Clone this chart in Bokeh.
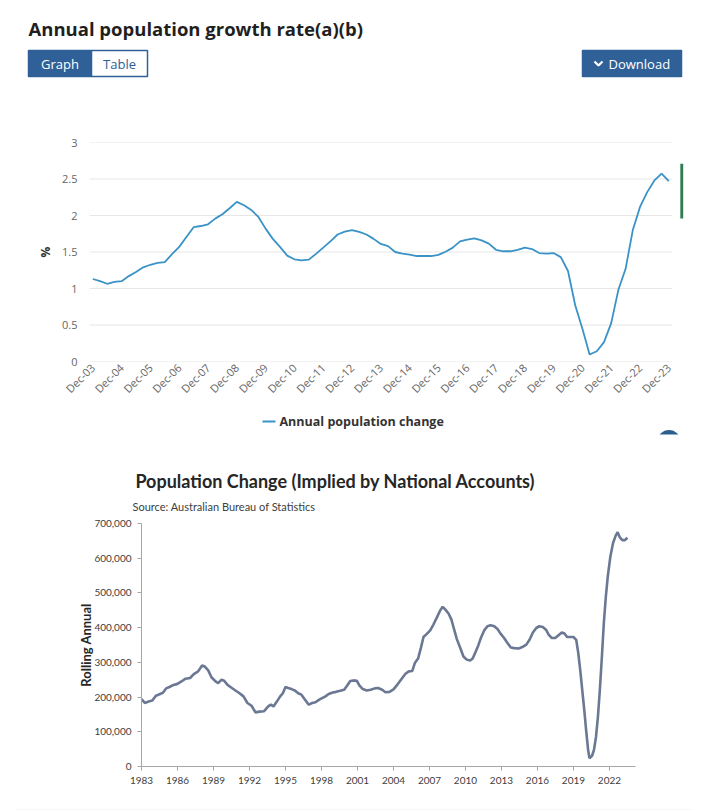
import numpy as np
from bokeh.plotting import figure
from bokeh.models import Range1d, FixedTicker, NumeralTickFormatter
from bokeh.layouts import column
from bokeh.embed import file_html
from bokeh.resources import INLINE
from bokeh.core.properties import value

# ---------------- data: top chart (quarterly, Dec-03 .. Dec-23) ----------------
growth_rate = [
    1.13,
    1.10, 1.065, 1.09, 1.10,
    1.17, 1.225, 1.29, 1.325,
    1.35, 1.36, 1.47, 1.57,
    1.705, 1.84, 1.856, 1.88,
    1.957, 2.017, 2.10, 2.186,
    2.14, 2.076, 1.98, 1.82,
    1.68, 1.57, 1.45, 1.40,
    1.385, 1.395, 1.475, 1.56,
    1.645, 1.74, 1.78, 1.80,
    1.775, 1.74, 1.68, 1.61,
    1.58, 1.50, 1.477, 1.463,
    1.445, 1.445, 1.445, 1.46,
    1.504, 1.56, 1.646, 1.67,
    1.687, 1.66, 1.614, 1.53,
    1.51, 1.51, 1.53, 1.56,
    1.54, 1.486, 1.477, 1.486,
    1.43, 1.24, 0.77, 0.45,
    0.096, 0.14, 0.265, 0.526,
    0.983, 1.27, 1.80, 2.117,
    2.32, 2.48, 2.574, 2.47,
]
dec_labels = ["Dec-03", "Dec-04", "Dec-05", "Dec-06", "Dec-07", "Dec-08", "Dec-09",
              "Dec-10", "Dec-11", "Dec-12", "Dec-13", "Dec-14", "Dec-15", "Dec-16",
              "Dec-17", "Dec-18", "Dec-19", "Dec-20", "Dec-21", "Dec-22", "Dec-23"]
pct_ticks = [0, 0.5, 1, 1.5, 2, 2.5, 3]
series_name = "Annual population change"

# ---------------- data: bottom chart ----------------
pop_years = [
    1983.0, 1983.28, 1983.6, 1983.9, 1984.2, 1984.5, 1984.8, 1985.05, 1985.33, 1985.67,
    1986.0, 1986.33, 1986.67, 1987.05, 1987.36, 1987.72, 1988.05, 1988.28, 1988.56, 1988.83,
    1989.17, 1989.39, 1989.67, 1989.89, 1990.17, 1990.5, 1990.83, 1991.17, 1991.5, 1991.83,
    1992.17, 1992.5, 1992.83, 1993.2, 1993.56, 1993.78, 1994.0, 1994.28, 1994.56, 1994.78,
    1995.0, 1995.22, 1995.5, 1995.78, 1996.06, 1996.33, 1996.6, 1996.94, 1997.22, 1997.5,
    1997.78, 1998.05, 1998.33, 1998.6, 1998.94, 1999.22, 1999.56, 1999.89, 2000.1, 2000.4,
    2000.67, 2000.94, 2001.17, 2001.44, 2001.78, 2002.1, 2002.44, 2002.72, 2003.06, 2003.33,
    2003.67, 2004.0, 2004.33, 2004.67, 2005.0, 2005.28, 2005.56, 2005.78, 2006.06, 2006.28,
    2006.5, 2006.78, 2007.06, 2007.33, 2007.6, 2007.9, 2008.1, 2008.33, 2008.6, 2008.83,
    2009.06, 2009.28, 2009.56, 2009.83, 2010.1, 2010.39, 2010.6, 2010.83, 2011.06, 2011.28,
    2011.56, 2011.83, 2012.1, 2012.4, 2012.67, 2012.94, 2013.22, 2013.5, 2013.78, 2014.06,
    2014.44, 2014.74, 2015.07, 2015.34, 2015.62, 2015.9, 2016.16, 2016.44, 2016.71, 2016.93,
    2017.2, 2017.48, 2017.75, 2018.03, 2018.25, 2018.47, 2018.74, 2019.0, 2019.23, 2019.4,
    2019.56, 2019.73, 2019.9, 2020.05, 2020.22, 2020.33, 2020.55, 2020.71, 2020.88, 2021.04,
    2021.2, 2021.37, 2021.53, 2021.7, 2021.86, 2022.08, 2022.3, 2022.52, 2022.68, 2022.85,
    2023.07, 2023.29, 2023.5,
]
pop_change = [
    194000, 183000, 187000, 190000, 204000, 208000, 213000, 225000, 229000, 235000,
    238000, 245000, 253000, 255000, 266000, 274000, 291000, 288000, 277000, 257000,
    245000, 240000, 250000, 247000, 235000, 227000, 219000, 211000, 202000, 183000,
    175000, 156000, 158000, 159000, 173000, 178000, 173000, 187000, 202000, 211000,
    229000, 226000, 223000, 219000, 211000, 207000, 194000, 178000, 183000, 185000,
    192000, 197000, 202000, 209000, 213000, 215000, 218000, 221000, 231000, 246000,
    248000, 247000, 233000, 223000, 219000, 221000, 225000, 226000, 221000, 214000,
    215000, 222000, 236000, 252000, 267000, 274000, 275000, 298000, 312000, 341000,
    373000, 382000, 392000, 409000, 428000, 450000, 460000, 452000, 440000, 423000,
    394000, 367000, 342000, 317000, 308000, 305000, 311000, 329000, 348000, 370000,
    392000, 404000, 407000, 404000, 396000, 382000, 370000, 356000, 343000, 341000,
    340000, 344000, 351000, 365000, 386000, 399000, 404000, 402000, 394000, 380000,
    370000, 370000, 378000, 386000, 383000, 373000, 373000, 373000, 365000, 327000,
    279000, 221000, 163000, 106000, 48000, 24000, 31000, 48000, 86000, 144000,
    221000, 317000, 413000, 490000, 548000, 606000, 644000, 665000, 675000, 661000,
    652000, 652000, 659000,
]
pop_tick_years = [1983, 1986, 1989, 1992, 1995, 1998, 2001, 2004, 2007, 2010, 2013, 2016, 2019, 2022]
pop_ticks = [0, 100000, 200000, 300000, 400000, 500000, 600000, 700000]

W = 712
BTN = "#2f6198"
LINE_BLUE = "#3a93c7"
OS = value("Open Sans")
LATO = value("Lato")


def strip(height, top, bottom):
    """A decoration strip whose ranges are page pixels (x 0..W, y top..bottom)."""
    f = figure(width=W, height=height, x_range=Range1d(0, W), y_range=Range1d(bottom, top),
               output_backend="svg", toolbar_location=None, min_border=0,
               x_axis_location=None, y_axis_location=None, frame_align=False)
    f.grid.visible = False
    f.outline_line_color = None
    return f


# ---------------- header ----------------
hdr = strip(88, 0, 88)
hdr.text(x=[28], y=[28], text=["Annual population growth rate(a)(b)"], text_font=OS,
         text_font_style="bold", text_font_size="18.5px", text_color="#1f1f1f",
         text_baseline="middle")
hdr.quad(left=[28, 91, 582], right=[91, 147, 681], top=[50, 50, 50], bottom=[76, 76, 76],
         fill_color=[BTN, "white", BTN], line_color=BTN, line_width=1.5)
hdr.text(x=[59.5, 119], y=[63.5, 63.5], text=["Graph", "Table"], text_font=OS,
         text_font_size="13px", text_color=["white", BTN], text_align="center",
         text_baseline="middle")
hdr.line(x=[594, 598, 602], y=[61, 65, 61], line_color="white", line_width=2.2)
hdr.text(x=[608], y=[63.5], text=["Download"], text_font=OS, text_font_size="13px",
         text_color="white", text_baseline="middle")

# ---------------- top chart ----------------
x_q = np.arange(len(growth_rate))
x_end = len(growth_rate) - 1 + 0.5
p = figure(width=W, height=323, x_range=Range1d(-0.46, x_end + 1.68), y_range=Range1d(0, 3),
           output_backend="svg", toolbar_location=None, frame_align=False,
           min_border_left=89, min_border_right=28, min_border_top=54, min_border_bottom=50)
p.outline_line_color = None
p.grid.visible = False
p.segment(x0=-0.46, x1=x_end, y0=pct_ticks, y1=pct_ticks, line_color="#e6e6e6", line_width=1)
p.line(x_q, growth_rate, line_color=LINE_BLUE, line_width=1.8)
# green side marker seen at the right of the chart
p.quad(left=[x_end + 1.1], right=[x_end + 1.5], bottom=[1.96], top=[2.71],
       fill_color="#2e7d55", line_color=None)
p.yaxis.ticker = FixedTicker(ticks=pct_ticks)
p.yaxis.major_label_overrides = {t: f"{t:g}" for t in pct_ticks}
p.xaxis.ticker = FixedTicker(ticks=[4 * i for i in range(len(dec_labels))])
p.xaxis.major_label_overrides = {4 * i: lab for i, lab in enumerate(dec_labels)}
p.xaxis.major_label_orientation = np.pi / 4
for ax in (p.xaxis[0], p.yaxis[0]):
    ax.axis_line_color = None
    ax.major_tick_line_color = None
    ax.major_tick_out = 0
    ax.minor_tick_line_color = None
    ax.major_label_text_font = "Open Sans"
    ax.major_label_text_font_size = "11px"
    ax.major_label_text_color = "#666666"
p.xaxis.major_label_standoff = 4
p.yaxis.major_label_standoff = 12
p.yaxis.axis_label = "%"
p.yaxis.axis_label_text_font = "Open Sans"
p.yaxis.axis_label_text_font_style = "bold"
p.yaxis.axis_label_text_font_size = "12px"
p.yaxis.axis_label_text_color = "#333333"
p.yaxis.axis_label_standoff = 5

# ---------------- middle strip: legend + second chart heading ----------------
mid = strip(104, 411, 515)
mid.line(x=[262, 275], y=[421, 421], line_color=LINE_BLUE, line_width=2)
mid.text(x=[279], y=[421], text=[series_name], text_font=OS, text_font_style="bold",
         text_font_size="12.5px", text_color="#333333", text_baseline="middle")
mid.ellipse(x=[668.5], y=[441], width=[23], height=[23], fill_color="#2d5f8e", line_color=None)
mid.quad(left=[650], right=[690], top=[434], bottom=[460], fill_color="white", line_color=None)
mid.text(x=[335], y=[480], text=["Population Change (Implied by National Accounts)"],
         text_font=LATO, text_font_style="bold", text_font_size="18px",
         text_color="#262626", text_align="center", text_baseline="middle")
mid.text(x=[132], y=[506], text=["Source: Australian Bureau of Statistics"],
         text_font=LATO, text_font_size="11px", text_color="#404040",
         text_baseline="middle")

# ---------------- bottom chart ----------------
q = figure(width=W, height=285, x_range=Range1d(1983, 2024.17), y_range=Range1d(0, 700000),
           output_backend="svg", toolbar_location=None, frame_align=False,
           min_border_left=141, min_border_right=77, min_border_top=8, min_border_bottom=34)
q.outline_line_color = None
q.grid.visible = False
q.line(pop_years, pop_change, line_color="#6b7894", line_width=2.6)
q.xaxis.ticker = FixedTicker(ticks=pop_tick_years)
q.yaxis.ticker = FixedTicker(ticks=pop_ticks)
q.yaxis.formatter = NumeralTickFormatter(format="0,0")
for ax in (q.xaxis[0], q.yaxis[0]):
    ax.axis_line_color = "#a6a6a6"
    ax.major_tick_line_color = "#a6a6a6"
    ax.major_tick_out = 4
    ax.major_tick_in = 0
    ax.minor_tick_line_color = None
    ax.major_label_text_font = "Lato"
    ax.major_label_text_font_size = "10px"
    ax.major_label_text_color = "#404040"
q.xaxis.major_label_standoff = 6
q.yaxis.major_label_standoff = 6
q.yaxis.axis_label = "Rolling Annual"
q.yaxis.axis_label_text_font = "Lato"
q.yaxis.axis_label_text_font_style = "bold"
q.yaxis.axis_label_text_font_size = "13px"
q.yaxis.axis_label_text_color = "#262626"
q.yaxis.axis_label_standoff = -3

# ---------------- bottom rule ----------------
foot = strip(10, 800, 810)
foot.line(x=[14, 692], y=[808, 808], line_color="#e2e2e2", line_width=1.5)

layout = column(hdr, p, mid, q, foot, spacing=0)
open("out.html", "w").write(file_html(layout, INLINE))
